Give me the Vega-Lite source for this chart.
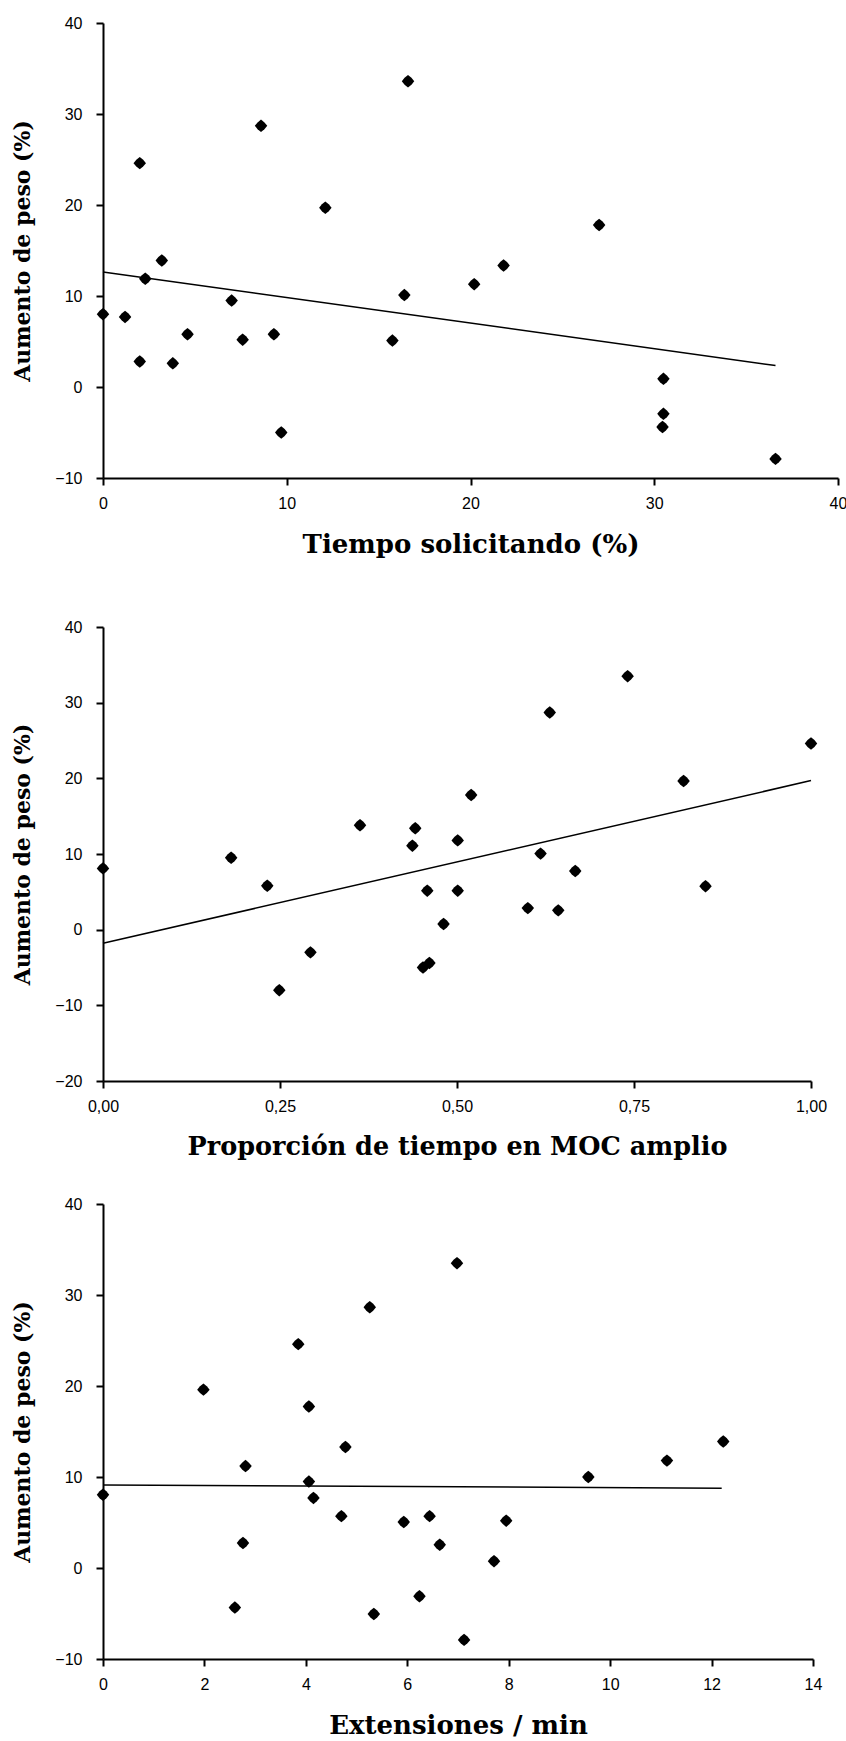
{
  "$schema": "https://vega.github.io/schema/vega-lite/v6.json",
  "background": "white",
  "padding": {"left": 11, "top": 15, "right": 5, "bottom": 5},
  "config": {
    "view": {"stroke": null},
    "axis": {
      "grid": false,
      "domainColor": "black",
      "domainWidth": 2,
      "tickColor": "black",
      "tickWidth": 2,
      "tickSize": 7,
      "labelFont": "Liberation Sans",
      "labelFontSize": 16,
      "labelColor": "black",
      "labelPadding": 10,
      "labelFlush": false,
      "labelOverlap": false,
      "titleFont": "DejaVu Serif",
      "titleFontWeight": "bold",
      "titleFontSize": 22,
      "titleColor": "black"
    },
    "axisX": {"titlePadding": 20, "titleFontSize": 26},
    "axisY": {"titlePadding": 20, "labelPadding": 14}
  },
  "datasets": {
    "p1": [
      {"x": 0, "y": 8.0}, {"x": 1.2, "y": 7.7}, {"x": 2.0, "y": 24.6}, {"x": 2.0, "y": 2.8},
      {"x": 2.3, "y": 11.9}, {"x": 3.2, "y": 13.9}, {"x": 3.8, "y": 2.6}, {"x": 4.6, "y": 5.8},
      {"x": 7.0, "y": 9.5}, {"x": 7.6, "y": 5.2}, {"x": 8.6, "y": 28.7}, {"x": 9.3, "y": 5.8},
      {"x": 9.7, "y": -5.0}, {"x": 12.1, "y": 19.7}, {"x": 15.75, "y": 5.1}, {"x": 16.4, "y": 10.1},
      {"x": 16.6, "y": 33.6}, {"x": 20.2, "y": 11.3}, {"x": 21.8, "y": 13.35}, {"x": 27.0, "y": 17.8},
      {"x": 30.5, "y": 0.9}, {"x": 30.5, "y": -2.95}, {"x": 30.45, "y": -4.4}, {"x": 36.6, "y": -7.9}
    ],
    "l1": [{"x": 0, "y": 12.65}, {"x": 36.6, "y": 2.35}],
    "p2": [
      {"x": 0, "y": 8.1}, {"x": 0.181, "y": 9.5}, {"x": 0.232, "y": 5.8}, {"x": 0.249, "y": -8.0},
      {"x": 0.293, "y": -3.0}, {"x": 0.363, "y": 13.8}, {"x": 0.437, "y": 11.1}, {"x": 0.441, "y": 13.4},
      {"x": 0.452, "y": -5.0}, {"x": 0.461, "y": -4.4}, {"x": 0.458, "y": 5.15}, {"x": 0.481, "y": 0.75},
      {"x": 0.501, "y": 11.8}, {"x": 0.501, "y": 5.15}, {"x": 0.52, "y": 17.8}, {"x": 0.6, "y": 2.85},
      {"x": 0.618, "y": 10.05}, {"x": 0.631, "y": 28.7}, {"x": 0.643, "y": 2.55}, {"x": 0.667, "y": 7.75},
      {"x": 0.741, "y": 33.5}, {"x": 0.82, "y": 19.65}, {"x": 0.851, "y": 5.75}, {"x": 1.0, "y": 24.6}
    ],
    "l2": [{"x": 0, "y": -1.8}, {"x": 1, "y": 19.7}],
    "p3": [
      {"x": 0, "y": 8.05}, {"x": 1.98, "y": 19.6}, {"x": 2.6, "y": -4.35}, {"x": 2.76, "y": 2.75},
      {"x": 2.81, "y": 11.2}, {"x": 3.85, "y": 24.6}, {"x": 4.06, "y": 17.75}, {"x": 4.06, "y": 9.5},
      {"x": 4.15, "y": 7.7}, {"x": 4.7, "y": 5.7}, {"x": 4.78, "y": 13.3}, {"x": 5.26, "y": 28.65},
      {"x": 5.34, "y": -5.05}, {"x": 5.93, "y": 5.05}, {"x": 6.24, "y": -3.1}, {"x": 6.44, "y": 5.7},
      {"x": 6.64, "y": 2.55}, {"x": 6.98, "y": 33.5}, {"x": 7.12, "y": -7.9}, {"x": 7.71, "y": 0.75},
      {"x": 7.95, "y": 5.2}, {"x": 9.57, "y": 10.0}, {"x": 11.12, "y": 11.8}, {"x": 12.23, "y": 13.9}
    ],
    "l3": [{"x": 0, "y": 9.13}, {"x": 12.2, "y": 8.77}]
  },
  "spacing": 62,
  "vconcat": [
    {
      "width": 735,
      "height": 455,
      "encoding": {
        "x": {"field": "x", "type": "quantitative", "title": "Tiempo solicitando (%)",
              "scale": {"domain": [0, 40], "nice": false, "zero": false},
              "axis": {"values": [0, 10, 20, 30, 40]}},
        "y": {"field": "y", "type": "quantitative", "title": "Aumento de peso (%)",
              "scale": {"domain": [-10, 40], "nice": false, "zero": false},
              "axis": {"values": [-10, 0, 10, 20, 30, 40]}}
      },
      "layer": [
        {"data": {"name": "l1"}, "mark": {"type": "line", "color": "black", "strokeWidth": 1.5}},
        {"data": {"name": "p1"}, "mark": {"type": "point", "shape": "M0,-1L0.55,-0.55L1,0L0.55,0.55L0,1L-0.55,0.55L-1,0L-0.55,-0.55Z", "filled": true, "color": "black", "opacity": 1, "size": 155}}
      ]
    },
    {
      "spacing": 36,
      "vconcat": [
        {
          "width": 708,
          "height": 454,
          "encoding": {
            "x": {"field": "x", "type": "quantitative", "title": "Proporción de tiempo en MOC amplio",
                  "scale": {"domain": [0, 1], "nice": false, "zero": false},
                  "axis": {"values": [0, 0.25, 0.5, 0.75, 1], "titleFontSize": 25.5, "labelExpr": "replace(format(datum.value, '.2f'), '.', ',')"}},
            "y": {"field": "y", "type": "quantitative", "title": "Aumento de peso (%)",
                  "scale": {"domain": [-20, 40], "nice": false, "zero": false},
                  "axis": {"values": [-20, -10, 0, 10, 20, 30, 40]}}
          },
          "layer": [
            {"data": {"name": "l2"}, "mark": {"type": "line", "color": "black", "strokeWidth": 1.5}},
            {"data": {"name": "p2"}, "mark": {"type": "point", "shape": "M0,-1L0.55,-0.55L1,0L0.55,0.55L0,1L-0.55,0.55L-1,0L-0.55,-0.55Z", "filled": true, "color": "black", "opacity": 1, "size": 155}}
          ]
        },
        {
          "width": 710,
          "height": 455,
          "encoding": {
            "x": {"field": "x", "type": "quantitative", "title": "Extensiones / min",
                  "scale": {"domain": [0, 14], "nice": false, "zero": false},
                  "axis": {"values": [0, 2, 4, 6, 8, 10, 12, 14]}},
            "y": {"field": "y", "type": "quantitative", "title": "Aumento de peso (%)",
                  "scale": {"domain": [-10, 40], "nice": false, "zero": false},
                  "axis": {"values": [-10, 0, 10, 20, 30, 40]}}
          },
          "layer": [
            {"data": {"name": "l3"}, "mark": {"type": "line", "color": "black", "strokeWidth": 1.5}},
            {"data": {"name": "p3"}, "mark": {"type": "point", "shape": "M0,-1L0.55,-0.55L1,0L0.55,0.55L0,1L-0.55,0.55L-1,0L-0.55,-0.55Z", "filled": true, "color": "black", "opacity": 1, "size": 155}}
          ]
        }
      ]
    }
  ]
}
